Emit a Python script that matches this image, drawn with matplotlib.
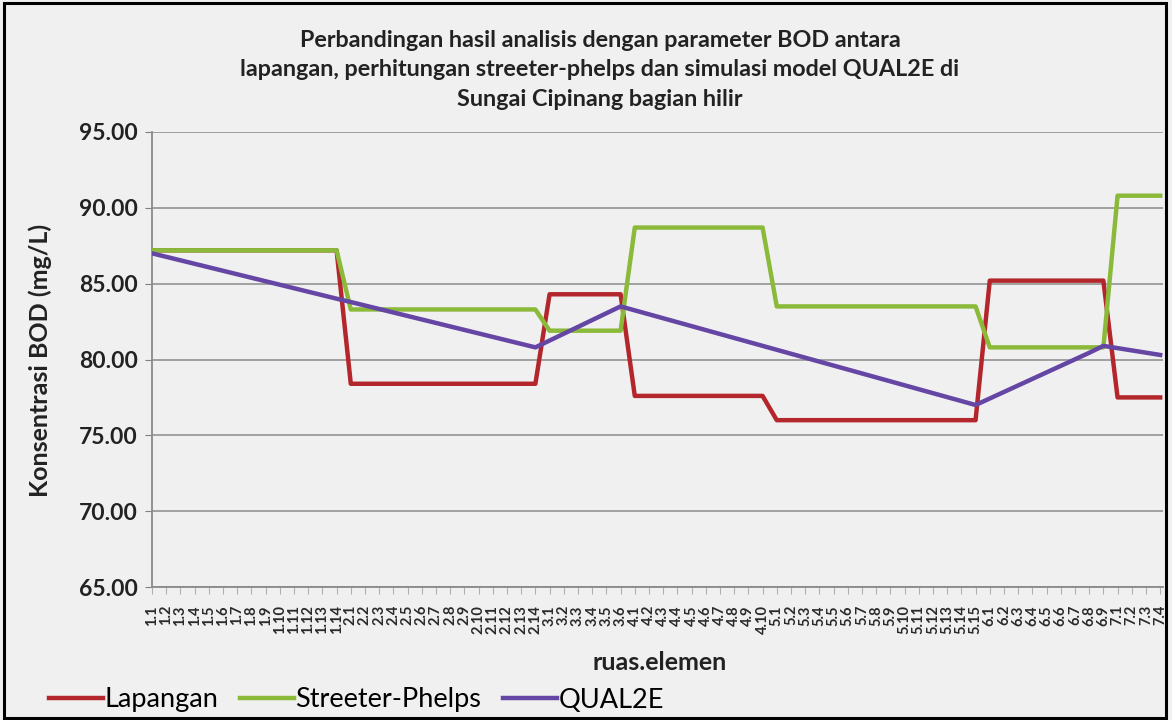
import matplotlib
matplotlib.use('Agg')
import matplotlib.pyplot as plt
from matplotlib.patches import Rectangle

plt.rcParams['font.family'] = ['Lato', 'DejaVu Sans']

title = ('Perbandingan hasil analisis dengan parameter BOD antara\n'
         'lapangan, perhitungan streeter-phelps dan simulasi model QUAL2E di\n'
         'Sungai Cipinang bagian hilir')

# number of elements in each ruas (reach)
elemen_per_ruas = [14, 14, 6, 10, 15, 9, 4]
labels = [f'{r}.{e}' for r, n in enumerate(elemen_per_ruas, start=1)
          for e in range(1, n + 1)]

lapangan = [
    87.2, 87.2, 87.2, 87.2, 87.2, 87.2, 87.2, 87.2, 87.2, 87.2, 87.2, 87.2, 87.2, 87.2,
    78.4, 78.4, 78.4, 78.4, 78.4, 78.4, 78.4, 78.4, 78.4, 78.4, 78.4, 78.4, 78.4, 78.4,
    84.3, 84.3, 84.3, 84.3, 84.3, 84.3,
    77.6, 77.6, 77.6, 77.6, 77.6, 77.6, 77.6, 77.6, 77.6, 77.6,
    76.0, 76.0, 76.0, 76.0, 76.0, 76.0, 76.0, 76.0, 76.0, 76.0, 76.0, 76.0, 76.0, 76.0, 76.0,
    85.2, 85.2, 85.2, 85.2, 85.2, 85.2, 85.2, 85.2, 85.2,
    77.5, 77.5, 77.5, 77.5,
]

streeter_phelps = [
    87.2, 87.2, 87.2, 87.2, 87.2, 87.2, 87.2, 87.2, 87.2, 87.2, 87.2, 87.2, 87.2, 87.2,
    83.3, 83.3, 83.3, 83.3, 83.3, 83.3, 83.3, 83.3, 83.3, 83.3, 83.3, 83.3, 83.3, 83.3,
    81.9, 81.9, 81.9, 81.9, 81.9, 81.9,
    88.7, 88.7, 88.7, 88.7, 88.7, 88.7, 88.7, 88.7, 88.7, 88.7,
    83.5, 83.5, 83.5, 83.5, 83.5, 83.5, 83.5, 83.5, 83.5, 83.5, 83.5, 83.5, 83.5, 83.5, 83.5,
    80.8, 80.8, 80.8, 80.8, 80.8, 80.8, 80.8, 80.8, 80.8,
    90.8, 90.8, 90.8, 90.8,
]

qual2e = [
    87.00, 86.77, 86.54, 86.31, 86.08, 85.85, 85.62, 85.39, 85.16, 84.93, 84.70, 84.47, 84.24, 84.01,
    83.79, 83.56, 83.33, 83.10, 82.87, 82.64, 82.41, 82.18, 81.95, 81.72, 81.49, 81.26, 81.03, 80.80,
    81.25, 81.70, 82.15, 82.60, 83.05, 83.50,
    83.24, 82.98, 82.72, 82.46, 82.20, 81.94, 81.68, 81.42, 81.16, 80.90,
    80.64, 80.38, 80.12, 79.86, 79.60, 79.34, 79.08, 78.82, 78.56, 78.30, 78.04, 77.78, 77.52, 77.26, 77.00,
    77.43, 77.86, 78.29, 78.72, 79.15, 79.58, 80.01, 80.44, 80.90,
    80.75, 80.60, 80.45, 80.30,
]

bg = '#f0f0f0'
fig = plt.figure(figsize=(11.72, 7.2), dpi=100, facecolor=bg)
ax = fig.add_axes([152 / 1172, 1 - 587 / 720, (1163 - 152) / 1172, (587 - 132) / 720])
ax.set_facecolor(bg)

x = list(range(len(labels)))
ax.plot(x, lapangan, color='#b3272c', lw=3.2, label='Lapangan', zorder=3)
ax.plot(x, streeter_phelps, color='#8bba3b', lw=3.2, label='Streeter-Phelps', zorder=3)
ax.plot(x, qual2e, color='#6546a5', lw=3.2, label='QUAL2E', zorder=4)

yt = [65, 70, 75, 80, 85, 90, 95]
ax.set_ylim(65, 95)
ax.set_yticks(yt)
ax.set_yticklabels([f'{v:.2f}' for v in yt], fontsize=16.5, fontweight='bold', color='#222222')
ax.yaxis.grid(True, color='#9a9a9a', lw=1.3)
ax.set_axisbelow(True)

ax.set_xlim(0, len(labels) - 1 + 0.2)
ax.set_xticks(x)
ax.set_xticklabels(labels, rotation=90, fontsize=10.5, fontweight='bold', color='#2a2a2a')
ax.tick_params(axis='x', length=5, color='#b0b0b0', pad=8)
ax.tick_params(axis='y', length=5, color='#808080', pad=5)

for s in ['top', 'right']:
    ax.spines[s].set_visible(False)
for s in ['left', 'bottom']:
    ax.spines[s].set_color('#8a8a8a')
    ax.spines[s].set_linewidth(1.3)

fig.text(40 / 1172, 1 - 360 / 720, 'Konsentrasi BOD (mg/L)', fontsize=18, fontweight='bold',
         rotation=90, ha='center', va='center', color='#222222')
fig.text(660 / 1172, 1 - 662 / 720, 'ruas.elemen', fontsize=18, fontweight='bold',
         ha='center', va='center', color='#222222')
fig.text(600 / 1172, 1 - 70 / 720, title, fontsize=16.8, fontweight='bold',
         ha='center', va='center', linespacing=1.5, color='#222222')

fig.legend(loc='center left', bbox_to_anchor=(38 / 1172, 1 - 700 / 720), ncol=3,
           frameon=False, fontsize=19.5, handlelength=2.0, handletextpad=0.05,
           columnspacing=0.8, borderaxespad=0)

fig.patches.append(Rectangle((0.003, 0.003), 0.992, 0.993, transform=fig.transFigure,
                             fill=False, edgecolor='black', lw=2.2))

fig.savefig('out.png', dpi=100, facecolor=bg)
